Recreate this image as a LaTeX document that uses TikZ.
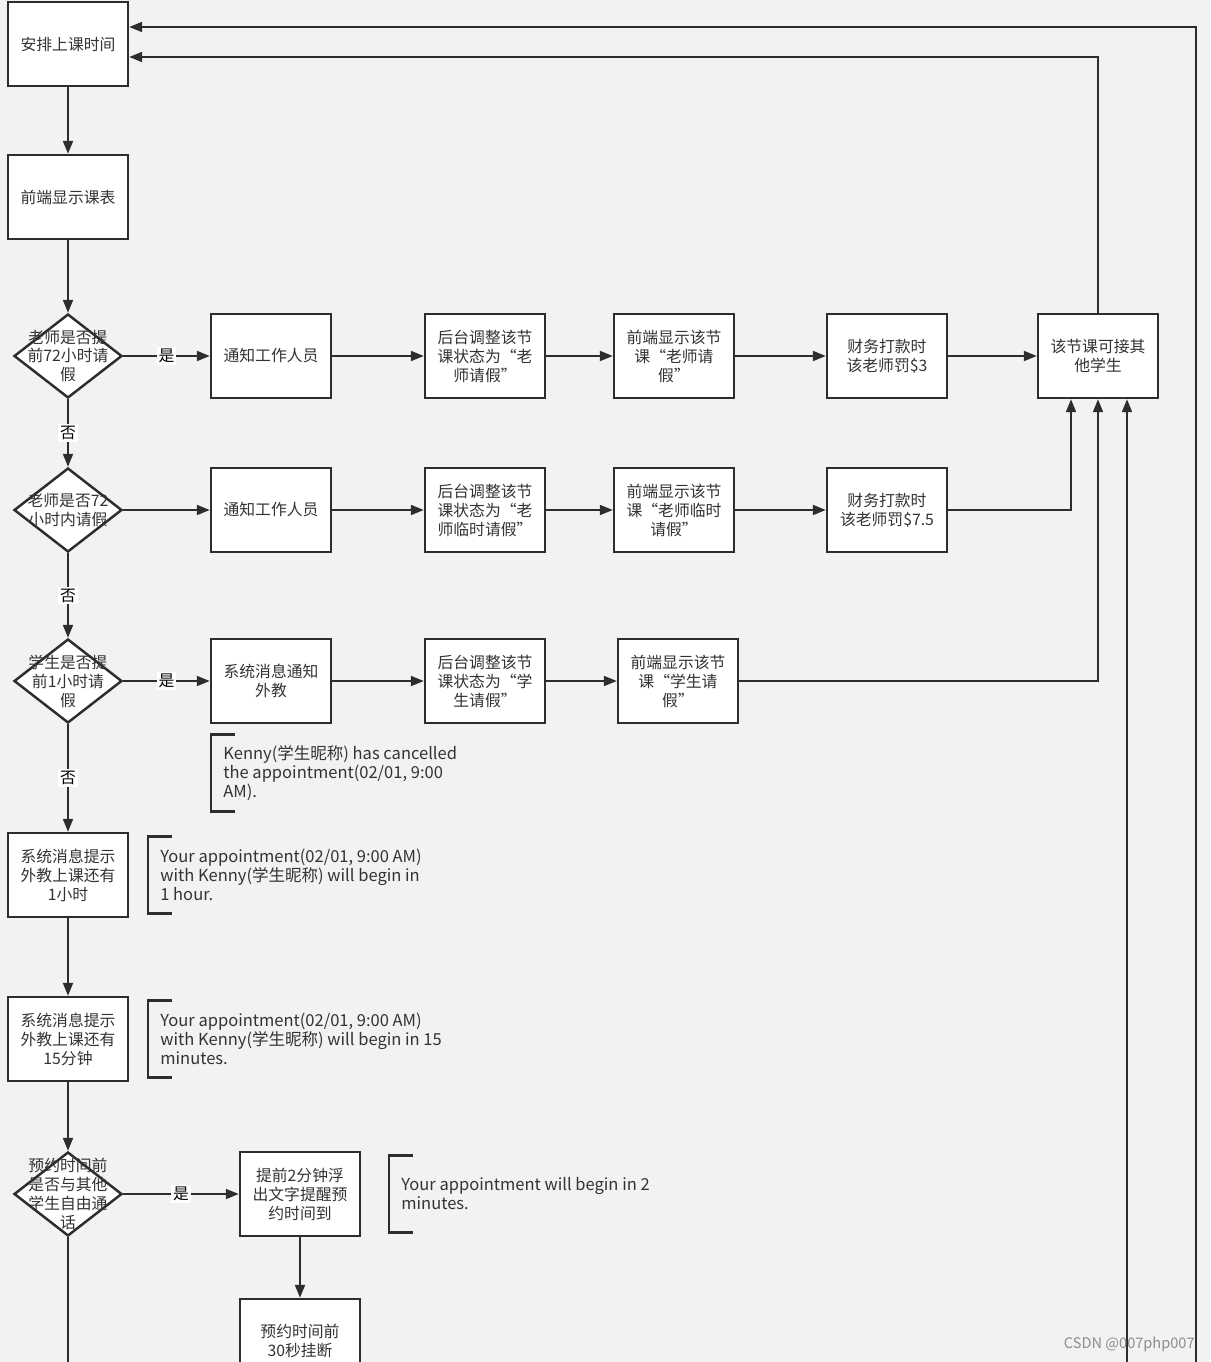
\documentclass[tikz,border=0pt]{standalone}
\usepackage{fontspec}
\setmainfont{Noto Sans CJK SC}
\usepackage{tikz}
\usetikzlibrary{shapes.geometric, arrows.meta, positioning, calc}
\definecolor{linegray}{RGB}{45,45,45}
\definecolor{textgray}{RGB}{51,51,51}
\definecolor{bggray}{RGB}{242,242,242}
\definecolor{markgray}{RGB}{140,140,140}

\begin{document}
\begin{tikzpicture}[
				x=0.02cm, y=-0.02cm,
				process/.style={rectangle, draw=linegray, fill=white, line width=1.4pt,
					minimum width=2.4cm, minimum height=1.68cm, align=center, inner sep=1pt,
					text=textgray, font=\fontsize{9}{10.8}\selectfont},
				decision/.style={diamond, draw=linegray, fill=white, line width=1.4pt,
					minimum width=2.16cm, minimum height=1.68cm, inner sep=0pt},
				dtext/.style={align=center, inner sep=0pt, text=textgray,
					font=\fontsize{9}{10.8}\selectfont},
				arrow/.style={-{Triangle[length=0.26cm, width=0.2cm]}, line width=1.1pt, color=linegray},
				line/.style={line width=1.1pt, color=linegray},
				tag/.style={fill=white, inner sep=1pt, text=black, font=\fontsize{9}{10}\selectfont},
				note/.style={anchor=west, align=left, inner sep=0pt, text=textgray,
					font=\fontsize{9.4}{10.8}\selectfont},
				bracket/.style={line width=1.2pt, color=linegray}
				]
				\fill[bggray] (0,0) rectangle (1210,1362);
				\useasboundingbox (0,0) rectangle (1210,1362);

				% left column
				\node[process] (arrange) at (68,44) {安排上课时间};
				\node[process] (show) at (68,197) {前端显示课表};
				\node[decision, label={[dtext]center:老师是否提\\前72小时请\\假}] (d1) at (68,356) {};
				\node[decision, label={[dtext]center:老师是否72\\小时内请假}] (d2) at (68,510) {};
				\node[decision, label={[dtext]center:学生是否提\\前1小时请\\假}] (d3) at (68,681) {};
				\node[process] (remind1) at (68,875) {系统消息提示\\外教上课还有\\1小时};
				\node[process] (remind2) at (68,1039) {系统消息提示\\外教上课还有\\15分钟};
				\node[decision, label={[dtext]center:预约时间前\\是否与其他\\学生自由通\\话}] (d4) at (68,1194) {};

				% row 1
				\node[process] (notify1) at (271,356) {通知工作人员};
				\node[process] (back1) at (485,356) {后台调整该节\\课状态为“老\\师请假”};
				\node[process] (front1) at (674,356) {前端显示该节\\课“老师请\\假”};
				\node[process] (fine1) at (887,356) {财务打款时\\该老师罚\$3};
				\node[process] (other) at (1098,356) {该节课可接其\\他学生};

				% row 2
				\node[process] (notify2) at (271,510) {通知工作人员};
				\node[process] (back2) at (485,510) {后台调整该节\\课状态为“老\\师临时请假”};
				\node[process] (front2) at (674,510) {前端显示该节\\课“老师临时\\请假”};
				\node[process] (fine2) at (887,510) {财务打款时\\该老师罚\$7.5};

				% row 3
				\node[process] (notify3) at (271,681) {系统消息通知\\外教};
				\node[process] (back3) at (485,681) {后台调整该节\\课状态为“学\\生请假”};
				\node[process] (front3) at (678,681) {前端显示该节\\课“学生请\\假”};

				% row 4
				\node[process] (float) at (300,1194) {提前2分钟浮\\出文字提醒预\\约时间到};
				\node[process] (hangup) at (300,1341) {预约时间前\\30秒挂断};

				% message notes
				\node[note] (msg1) at (223,773) {Kenny(学生昵称) has cancelled\\the appointment(02/01, 9:00\\AM).};
				\node[note] (msg2) at (160,875) {Your appointment(02/01, 9:00 AM)\\with Kenny(学生昵称) will begin in\\1 hour.};
				\node[note] (msg3) at (160,1039) {Your appointment(02/01, 9:00 AM)\\with Kenny(学生昵称) will begin in 15\\minutes.};
				\node[note] (msg4) at (401,1194) {Your appointment will begin in 2\\minutes.};
				\foreach \m in {msg1,msg2,msg3,msg4}
					\draw[bracket] ($(\m.west)+(12,-38.5)$) -- ++(-24,0) -- ++(0,77) -- ++(24,0);

				% free ends below the page
				\coordinate (d4out) at (68,1362);
				\coordinate (backin) at (1127,1362);
				\coordinate (loopin) at (1196,1362);

				% main flow
				\draw[arrow] (arrange) -- (show);
				\draw[arrow] (show) -- (d1);
				\draw[arrow] (d1) -- node[tag] {是} (notify1);
				\draw[arrow] (d1) -- node[tag] {否} (d2);
				\draw[arrow] (d2) -- (notify2);
				\draw[arrow] (d2) -- node[tag] {否} (d3);
				\draw[arrow] (d3) -- node[tag] {是} (notify3);
				\draw[arrow] (d3) -- node[tag] {否} (remind1);
				\draw[arrow] (remind1) -- (remind2);
				\draw[arrow] (remind2) -- (d4);
				\draw[arrow] (d4) -- node[tag] {是} (float);
				\draw[arrow] (float) -- (hangup);
				\draw[line] (d4) -- (d4out);

				% rows
				\draw[arrow] (notify1) -- (back1);
				\draw[arrow] (back1) -- (front1);
				\draw[arrow] (front1) -- (fine1);
				\draw[arrow] (fine1) -- (other);
				\draw[arrow] (notify2) -- (back2);
				\draw[arrow] (back2) -- (front2);
				\draw[arrow] (front2) -- (fine2);
				\draw[arrow] (fine2) -| ($(other.south)+(-27,0)$);
				\draw[arrow] (notify3) -- (back3);
				\draw[arrow] (back3) -- (front3);
				\draw[arrow] (front3) -| (other.south);
				\draw[arrow] (backin) -- ($(other.south)+(29,0)$);

				% back to the top
				\draw[arrow] (other.north) |- ($(arrange.east)+(0,13)$);
				\draw[arrow] (loopin) |- ($(arrange.east)+(0,-17)$);

				\node[anchor=east, inner sep=0pt, text=markgray, font=\fontsize{8.3}{9}\selectfont] (mark) at (1195,1344) {CSDN @007php007};
			\end{tikzpicture}
\end{document}
